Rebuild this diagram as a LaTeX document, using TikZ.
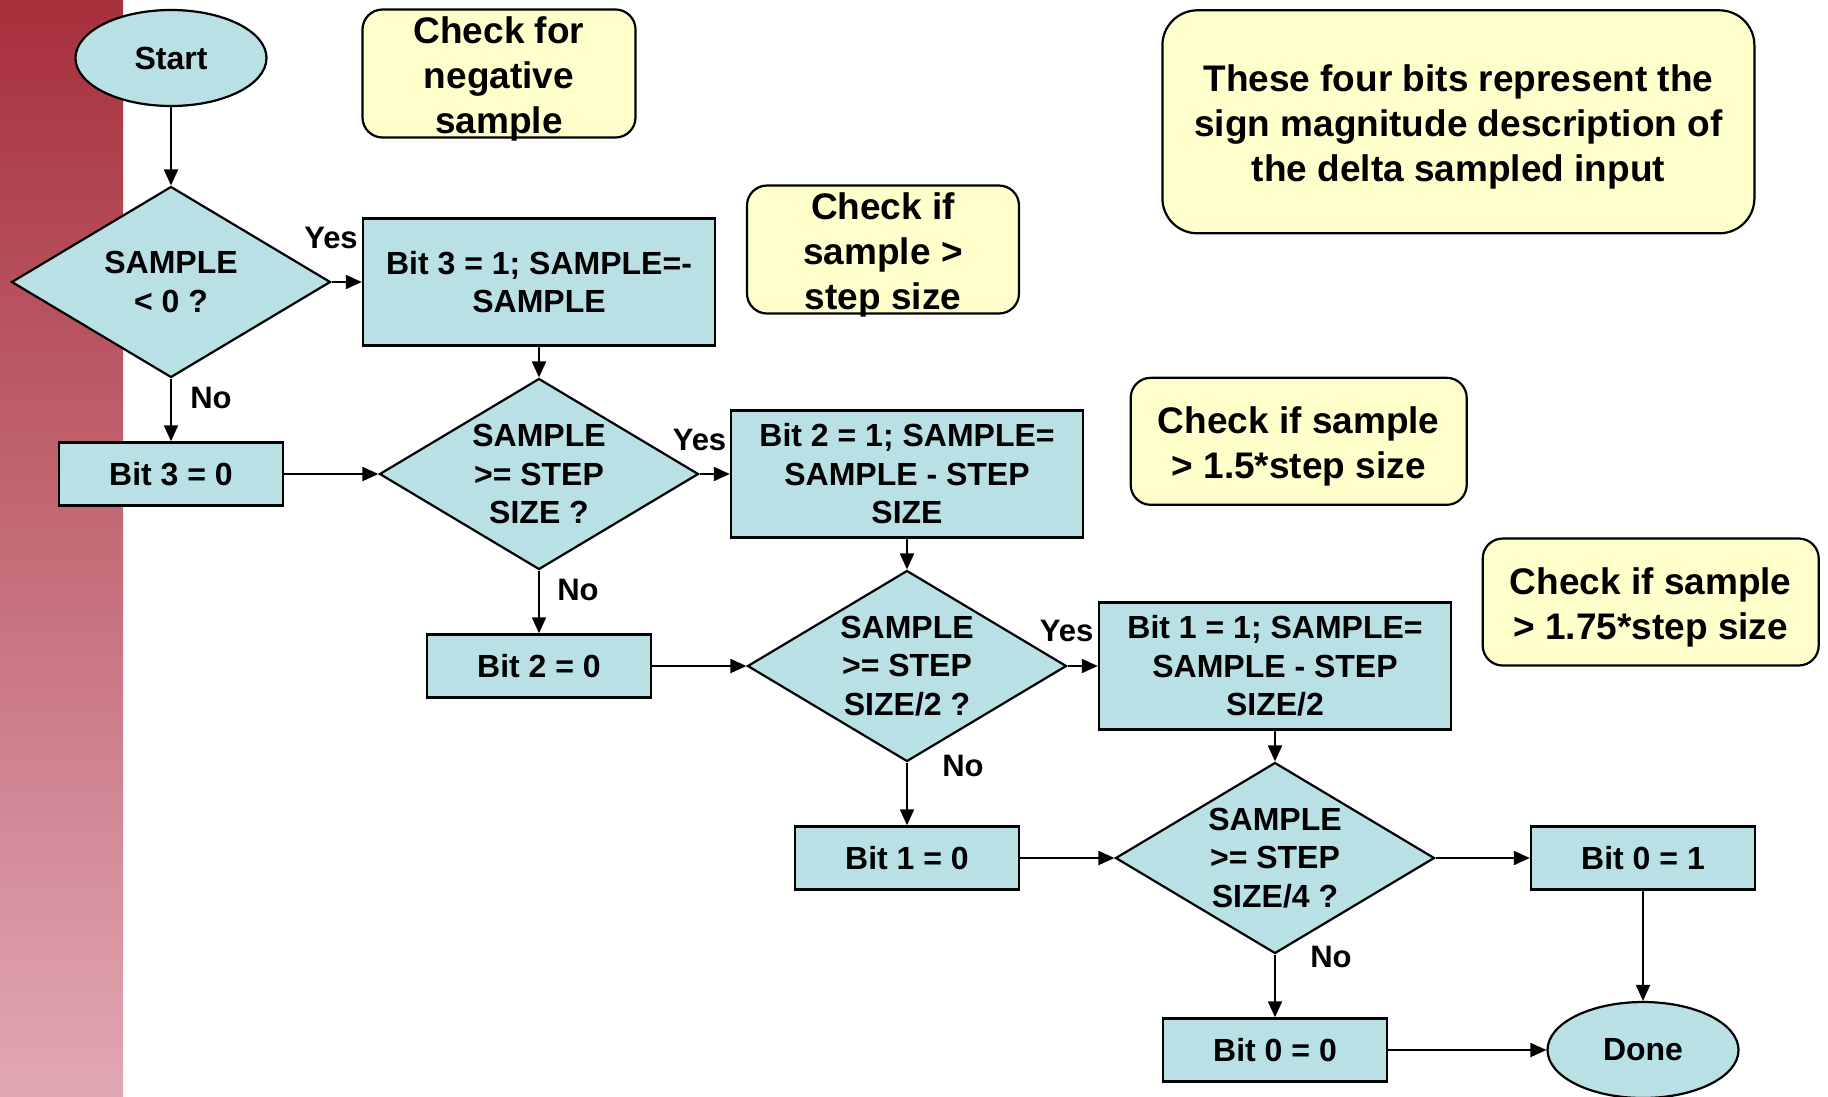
\documentclass[tikz,border=0pt]{standalone}
\usepackage{fontspec}
\setmainfont{Liberation Sans}
\usetikzlibrary{shapes.geometric,arrows.meta}
\definecolor{flowfill}{RGB}{185,224,228}
\definecolor{notefill}{RGB}{255,255,204}
\definecolor{bartop}{RGB}{166,48,60}
\definecolor{barmid}{RGB}{206,132,144}
\definecolor{barbot}{RGB}{225,168,180}

\begin{document}
\begin{tikzpicture}[x=1pt,y=-1pt,
  every node/.style={font=\bfseries\fontsize{32}{38.5}\selectfont},
  flow/.style={line width=2pt, -{Triangle[length=16pt,width=14pt]}},
  procbox/.style={draw, line width=2.4pt, fill=flowfill, rectangle, align=center, inner sep=0pt},
  wide/.style={minimum width=352pt, minimum height=127pt},
  narrow/.style={minimum width=224pt, minimum height=63pt},
  decision/.style={draw, line width=2.2pt, fill=flowfill, diamond, minimum width=319pt, minimum height=191pt, inner sep=0pt},
  terminal/.style={draw, line width=2.2pt, fill=flowfill, ellipse, minimum width=191pt, minimum height=96pt, inner sep=0pt},
  note/.style={draw, line width=2.2pt, fill=notefill, rounded corners=20pt, inner sep=0pt},
  notetext/.style={align=center, inner sep=0pt, yshift=-5pt, font=\bfseries\fontsize{37}{45}\selectfont},
  dtext/.style={align=center, inner sep=0pt},
  answer/.style={inner sep=0pt, font=\bfseries\fontsize{31}{38}\selectfont}
]
\useasboundingbox (0,0) rectangle (1828,1096);

% shaded side bar
\shade[top color=bartop, middle color=barmid, bottom color=barbot] (0,0) rectangle (123,1096);

% comment boxes
\node[note, minimum width=273pt, minimum height=128pt] (n1) at (499,73.5) {};
\node[notetext] (n1t) at (n1) {Check for\\negative\\sample};
\node[note, rounded corners=35pt, minimum width=592pt, minimum height=223pt] (n0) at (1458.4,121.8) {};
\node[notetext] (n0t) at (n0) {These four bits represent the\\sign magnitude description of\\the delta sampled input};
\node[note, minimum width=272pt, minimum height=128pt] (n2) at (883,249.5) {};
\node[notetext] (n2t) at (n2) {Check if\\sample >\\step size};
\node[note, minimum width=336pt, minimum height=127pt] (n3) at (1298.7,441.3) {};
\node[notetext] (n3t) at (n3) {Check if sample\\> 1.5*step size};
\node[note, minimum width=336pt, minimum height=127pt] (n4) at (1650.7,602) {};
\node[notetext] (n4t) at (n4) {Check if sample\\> 1.75*step size};

% flow chart
\node[terminal] (start) at (171,58) {Start};

\node[decision] (d1) at (171,282) {};
\node[dtext] (d1t) at (d1) {SAMPLE\\< 0 ?};
\node[procbox, wide] (b3a) at (539,282) {Bit 3 = 1; SAMPLE=-\\SAMPLE};
\node[procbox, narrow] (b3b) at (171,474) {Bit 3 = 0};

\node[decision] (d2) at (539,474) {};
\node[dtext] (d2t) at (d2) {SAMPLE\\>= STEP\\SIZE ?};
\node[procbox, wide] (b2a) at (907,474) {Bit 2 = 1; SAMPLE=\\SAMPLE - STEP\\SIZE};
\node[procbox, narrow] (b2b) at (539,666) {Bit 2 = 0};

\node[decision] (d3) at (907,666) {};
\node[dtext] (d3t) at (d3) {SAMPLE\\>= STEP\\SIZE/2 ?};
\node[procbox, wide] (b1a) at (1275,666) {Bit 1 = 1; SAMPLE=\\SAMPLE - STEP\\SIZE/2};
\node[procbox, narrow] (b1b) at (907,858) {Bit 1 = 0};

\node[decision] (d4) at (1275,858) {};
\node[dtext] (d4t) at (d4) {SAMPLE\\>= STEP\\SIZE/4 ?};
\node[procbox, narrow] (b0a) at (1643,858) {Bit 0 = 1};
\node[procbox, narrow] (b0b) at (1275,1050) {Bit 0 = 0};

\node[terminal] (done) at (1643,1050) {Done};

% connectors
\draw[flow] (start) -- (d1);
\draw[flow] (d1.east) -- (b3a.west);
\draw[flow] (d1.south) -- (b3b.north);
\draw[flow] (b3a.south) -- (d2.north);
\draw[flow] (b3b.east) -- (d2.west);
\draw[flow] (d2.east) -- (b2a.west);
\draw[flow] (d2.south) -- (b2b.north);
\draw[flow] (b2a.south) -- (d3.north);
\draw[flow] (b2b.east) -- (d3.west);
\draw[flow] (d3.east) -- (b1a.west);
\draw[flow] (d3.south) -- (b1b.north);
\draw[flow] (b1a.south) -- (d4.north);
\draw[flow] (b1b.east) -- (d4.west);
\draw[flow] (d4.east) -- (b0a.west);
\draw[flow] (d4.south) -- (b0b.north);
\draw[flow] (b0a.south) -- (done.north);
\draw[flow] (b0b.east) -- (done.west);

% branch labels
\node[answer] (y1) at (331,238) {Yes};
\node[answer] (y2) at (699.5,439.5) {Yes};
\node[answer] (y3) at (1066.7,630.7) {Yes};
\node[answer] (no1) at (211,397.5) {No};
\node[answer] (no2) at (578,590) {No};
\node[answer] (no3) at (963,766) {No};
\node[answer] (no4) at (1331,957) {No};
\end{tikzpicture}
\end{document}
